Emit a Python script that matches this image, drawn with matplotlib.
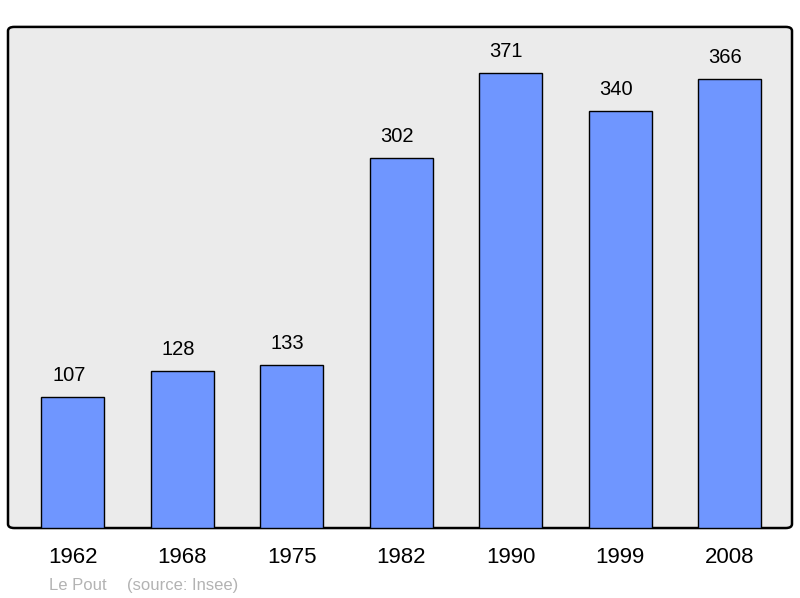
import matplotlib
matplotlib.use("Agg")
import matplotlib.pyplot as plt
from matplotlib.patches import FancyBboxPatch

plt.rcParams['font.family'] = ['Liberation Sans', 'DejaVu Sans']

# data
years = ['1962', '1968', '1975', '1982', '1990', '1999', '2008']
population = [107, 128, 133, 302, 371, 340, 366]
commune = 'Le Pout'
source = '(source: Insee)'

fig = plt.figure(figsize=(8, 5.98), dpi=100)
ax = fig.add_axes([0.01, 0.117, 0.98, 0.838])

# frame with rounded corners
frame = FancyBboxPatch((0, 0), 1, 1, boxstyle='round,pad=0,rounding_size=0.008',
                       transform=ax.transAxes, facecolor='#ebebeb',
                       edgecolor='black', linewidth=1.8, zorder=0, clip_on=False)
ax.add_patch(frame)
ax.set_facecolor('none')
for s in ax.spines.values():
    s.set_visible(False)

x = range(len(years))
bars = ax.bar(x, population, width=0.576, color='#6f96ff',
              edgecolor='black', linewidth=1.0, zorder=2)
for xi, v in zip(x, population):
    ax.annotate(str(v), (xi, v), xytext=(-3, 8.5), textcoords='offset points',
                ha='center', va='bottom', fontsize=14.5, color='black')

ax.set_xlim(-0.594, 6.572)
ax.set_ylim(0, 408.5)
ax.set_yticks([])
ax.set_xticks(list(x))
ax.set_xticklabels(years, fontsize=16)
ax.tick_params(axis='x', length=0, pad=14)

fig.text(49 / 800, 1 - 590 / 598, commune, fontsize=12,
         color='#b3b3b3', ha='left', va='baseline')
fig.text(127 / 800, 1 - 590 / 598, source, fontsize=12,
         color='#b3b3b3', ha='left', va='baseline')

fig.savefig('out.png', dpi=100)
